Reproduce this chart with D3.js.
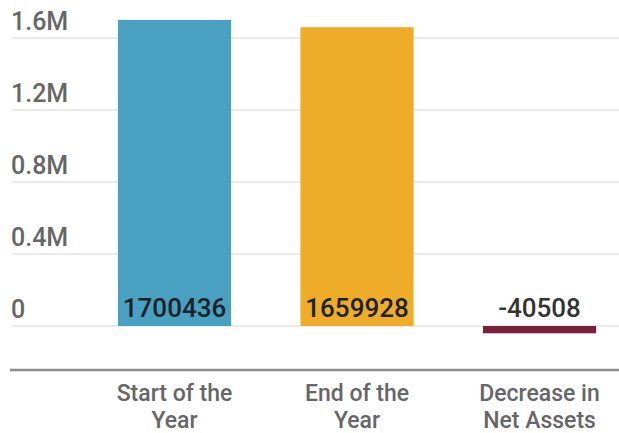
<!DOCTYPE html>
<html>
<head>
	<meta charset="utf-8"/>
	<script src="https://cdn.jsdelivr.net/npm/d3@7"></script>
	<style type="text/css">
		body { margin: 0; background: #fff; }
		svg { display: block; font-family: Roboto, "Noto Sans", sans-serif; }
	</style>
</head>
<body>
	<svg id="chart" width="619" height="433"></svg>
	<script type="text/javascript">

		var categories = [["Start of the", "Year"], ["End of the", "Year"], ["Decrease in", "Net Assets"]];
		var values = [1700436, 1659928, -40508];
		var barColors = ["#4aa0c0", "#efac28", "#7b1e3a"];
		var tickValues = [0, 400000, 800000, 1200000, 1600000];
		var tickLabels = ["0", "0.4M", "0.8M", "1.2M", "1.6M"];

		var svg = d3.select("#chart");

		var x = d3.scaleBand()
			.domain(d3.range(values.length))
			.range([10, 619])
			.paddingInner(0.38)
			.paddingOuter(0.3585)
			.align(0.825);

		var y = d3.scaleLinear()
			.domain([-200000, 1600000])
			.range([362, 38]);

		// gridlines + y labels
		var grid = svg.append("g");
		grid.selectAll("line")
			.data(tickValues).enter()
			.append("line")
			.attr("x1", 12).attr("x2", 619)
			.attr("y1", function(d) { return y(d); })
			.attr("y2", function(d) { return y(d); })
			.style("stroke", "#e4e4e4")
			.style("stroke-width", "1.5px");
		grid.selectAll("text")
			.data(tickValues).enter()
			.append("text")
			.attr("x", 11)
			.attr("y", function(d) { return y(d) - 8; })
			.style("font-size", "25px")
			.style("font-weight", 500)
			.style("fill", "#666")
			.text(function(d, i) { return tickLabels[i]; });

		// bars
		svg.append("g").selectAll("rect")
			.data(values).enter()
			.append("rect")
			.attr("x", function(d, i) { return x(i); })
			.attr("width", x.bandwidth())
			.attr("y", function(d) { return y(Math.max(0, d)); })
			.attr("height", function(d) { return Math.abs(y(d) - y(0)); })
			.style("fill", function(d, i) { return barColors[i]; });

		// value labels
		svg.append("g").selectAll("text")
			.data(values).enter()
			.append("text")
			.attr("x", function(d, i) { return x(i) + x.bandwidth() / 2; })
			.attr("y", y(0) - 9)
			.attr("text-anchor", "middle")
			.style("font-size", "26px")
			.style("font-weight", 500)
			.style("fill", function(d) { return d < 0 ? "#333" : "#1b2229"; })
			.text(function(d) { return d; });

		// bottom axis line
		svg.append("line")
			.attr("x1", 10).attr("x2", 619)
			.attr("y1", 370).attr("y2", 370)
			.style("stroke", "#8c8c8c")
			.style("stroke-width", "2.5px");

		// category labels
		var cat = svg.append("g").selectAll("text")
			.data(categories).enter()
			.append("text")
			.attr("text-anchor", "middle")
			.attr("x", function(d, i) { return x(i) + x.bandwidth() / 2; })
			.attr("y", 401)
			.style("font-size", "23px")
			.style("font-weight", 500)
			.style("fill", "#666");
		cat.selectAll("tspan")
			.data(function(d) { return d; }).enter()
			.append("tspan")
			.attr("x", function() { return d3.select(this.parentNode).attr("x"); })
			.attr("dy", function(d, i) { return i === 0 ? 0 : 27; })
			.text(function(d) { return d; });

	</script>
</body>
</html>
